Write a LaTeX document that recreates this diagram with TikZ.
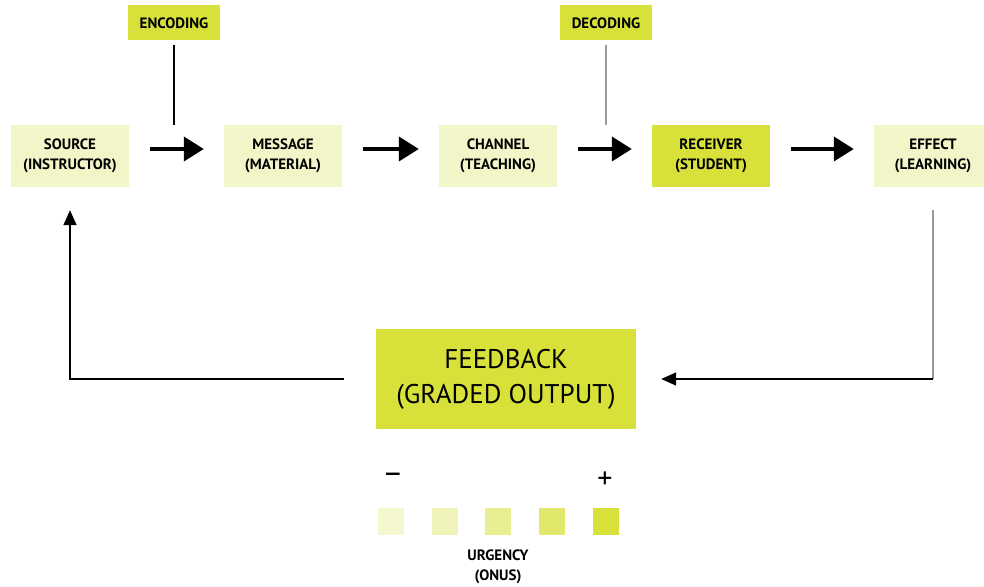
\documentclass[tikz,border=0pt]{standalone}
\usepackage{fontspec}
\setmainfont{PT Sans}
\definecolor{cclime}{HTML}{D7E13A}
\definecolor{ccpale}{HTML}{F1F5C7}
\definecolor{ccgrey}{HTML}{9A9A9A}
\usetikzlibrary{arrows.meta,positioning}

\begin{document}
\begin{tikzpicture}[x=1pt,y=-1pt,
  stage/.style={fill=ccpale,minimum width=118pt,minimum height=62pt,align=center,
    inner sep=0pt,font=\fontsize{15}{20}\selectfont\bfseries},
  hot/.style={stage,fill=cclime},
  tag/.style={fill=cclime,minimum width=92pt,minimum height=35pt,inner sep=0pt,
    font=\fontsize{15}{15}\selectfont\bfseries},
  swatch/.style={minimum width=26pt,minimum height=27pt,inner sep=0pt},
  flow/.style={-{Triangle[length=20pt,width=24pt]},line width=4pt,
    shorten <=21pt,shorten >=20pt},
  backline/.style={-{Triangle[length=15pt,width=13pt]},line width=1.6pt}]
  \useasboundingbox (0,0) rectangle (984,586);
  \clip (0,0) rectangle (984,586);
  \node[tag] (enc) at (174,23) {ENCODING};
  \node[tag] (dec) at (606,23) {DECODING};
  \node[stage] (src) at (70,156) {SOURCE\\(INSTRUCTOR)};
  \node[stage] (msg) at (283,156) {MESSAGE\\(MATERIAL)};
  \node[stage] (chn) at (498,156) {CHANNEL\\(TEACHING)};
  \node[hot] (rcv) at (711,156) {RECEIVER\\(STUDENT)};
  \node[stage] (eff) at (933,156) {EFFECT\\(LEARNING)};
  \node[hot,minimum width=260pt,minimum height=100pt,
    font=\fontsize{27}{35}\selectfont] (fb) at (506,379)
    {FEEDBACK\\(GRADED OUTPUT)};
  % main flow
  \draw[flow] ([yshift=7pt]src.east) -- ([yshift=7pt]msg.west);
  \draw[flow] ([yshift=7pt]msg.east) -- ([yshift=7pt]chn.west);
  \draw[flow] ([yshift=7pt]chn.east) -- ([yshift=7pt]rcv.west);
  \draw[flow] ([yshift=7pt]rcv.east) -- ([yshift=7pt]eff.west);
  \draw[line width=1.6pt,shorten <=4pt] (enc.south) -- (enc.south |- src.north);
  \draw[line width=1.6pt,ccgrey,shorten <=4pt] (dec.south) -- (dec.south |- src.north);
  % feedback loop
  \coordinate (turn) at (eff.south |- fb.east);
  \draw[line width=1.6pt,ccgrey,shorten <=23pt] (eff.south) -- (turn);
  \draw[backline,shorten >=25pt] (turn) -- (fb.east);
  \draw[backline,shorten <=32pt,shorten >=23pt]
    (fb.west) -- (fb.west -| src.south) -- (src.south);
  % urgency scale
  \node[font=\fontsize{32}{32}\selectfont] (lo) at (393,478) {–};
  \node[font=\fontsize{30}{30}\selectfont] (hi) at (605,480) {+};
  \foreach \i/\c in {0/25,1/35,2/55,3/75,4/100}
    \node[swatch,fill=cclime!\c] (u\i) at ({391+53.7*\i},521) {};
  \node[align=center,font=\fontsize{15}{20}\selectfont\bfseries] (urg) at (498,567)
    {URGENCY\\(ONUS)};
\end{tikzpicture}
\end{document}
